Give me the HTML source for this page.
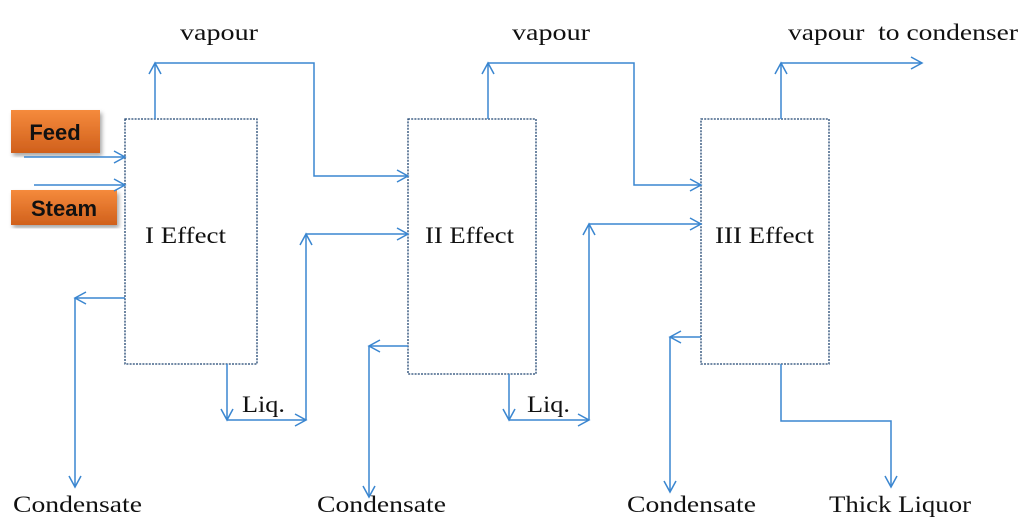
<!DOCTYPE html>
<html><head><style>
html,body{margin:0;padding:0;background:#fff;}
svg{display:block}
.t{font-family:"Liberation Serif",Georgia,serif;font-size:23px;fill:#111}
.b{font-family:"Liberation Sans",Arial,sans-serif;font-size:22px;font-weight:bold;fill:#111}
</style></head><body>
<svg width="1025" height="531" viewBox="0 0 1025 531" xmlns="http://www.w3.org/2000/svg">
<defs>
<marker id="a" markerWidth="16" markerHeight="16" refX="12" refY="7" orient="auto" markerUnits="userSpaceOnUse">
<path d="M1,1 L12,7 L1,13" fill="none" stroke="#3a86d0" stroke-width="1.5"/>
</marker>
<linearGradient id="og" x1="0" y1="0" x2="0" y2="1">
<stop offset="0" stop-color="#f58a3c"/><stop offset="1" stop-color="#d0601c"/>
</linearGradient>
<filter id="sh"><feDropShadow dx="2" dy="3" stdDeviation="2" flood-opacity="0.35"/></filter>
</defs>
<rect x="11" y="110" width="89" height="43" fill="url(#og)" filter="url(#sh)"/>
<text class="b" x="55" y="140" text-anchor="middle">Feed</text>
<rect x="11" y="190" width="106" height="35" fill="url(#og)" filter="url(#sh)"/>
<text class="b" x="64" y="216" text-anchor="middle">Steam</text>

<g fill="none" stroke="#1f4470" stroke-width="1.3" stroke-dasharray="2,1.2">
<rect x="125" y="119" width="132" height="245"/>
<rect x="408" y="119" width="128" height="255"/>
<rect x="701" y="119" width="128" height="245"/>
</g>
<text class="t" x="145" y="243" textLength="81" lengthAdjust="spacingAndGlyphs">I Effect</text>
<text class="t" x="425" y="243" textLength="89" lengthAdjust="spacingAndGlyphs">II Effect</text>
<text class="t" x="715" y="243" textLength="99" lengthAdjust="spacingAndGlyphs">III Effect</text>

<g fill="none" stroke="#3a86d0" stroke-width="1.5">
<polyline points="24,157 125,157" marker-end="url(#a)"/>
<polyline points="34,185 125,185" marker-end="url(#a)"/>
<polyline points="155,119 155,63" marker-end="url(#a)"/>
<polyline points="155,63 314,63 314,176 408,176" marker-end="url(#a)"/>
<polyline points="125,298 75,298" marker-end="url(#a)"/>
<polyline points="75,298 75,487" marker-end="url(#a)"/>
<polyline points="227,364 227,420" marker-end="url(#a)"/>
<polyline points="227,420 306,420" marker-end="url(#a)"/>
<polyline points="306,420 306,234" marker-end="url(#a)"/>
<polyline points="306,234 408,234" marker-end="url(#a)"/>
<polyline points="488,119 488,63" marker-end="url(#a)"/>
<polyline points="488,63 634,63 634,185 701,185" marker-end="url(#a)"/>
<polyline points="408,346 369,346" marker-end="url(#a)"/>
<polyline points="369,346 369,497" marker-end="url(#a)"/>
<polyline points="509,374 509,420" marker-end="url(#a)"/>
<polyline points="509,420 589,420" marker-end="url(#a)"/>
<polyline points="589,420 589,224" marker-end="url(#a)"/>
<polyline points="589,224 701,224" marker-end="url(#a)"/>
<polyline points="781,119 781,63" marker-end="url(#a)"/>
<polyline points="781,63 922,63" marker-end="url(#a)"/>
<polyline points="701,337 670,337" marker-end="url(#a)"/>
<polyline points="670,337 670,492" marker-end="url(#a)"/>
<polyline points="781,364 781,421 891,421 891,487" marker-end="url(#a)"/>
</g>

<text class="t" x="180" y="40" textLength="78" lengthAdjust="spacingAndGlyphs">vapour</text>
<text class="t" x="512" y="40" textLength="78" lengthAdjust="spacingAndGlyphs">vapour</text>
<text class="t" x="788" y="40" textLength="230" lengthAdjust="spacingAndGlyphs" xml:space="preserve">vapour  to condenser</text>
<text class="t" x="242" y="412" textLength="43" lengthAdjust="spacingAndGlyphs">Liq.</text>
<text class="t" x="527" y="412" textLength="43" lengthAdjust="spacingAndGlyphs">Liq.</text>
<text class="t" x="13" y="512" textLength="129" lengthAdjust="spacingAndGlyphs">Condensate</text>
<text class="t" x="317" y="512" textLength="129" lengthAdjust="spacingAndGlyphs">Condensate</text>
<text class="t" x="627" y="512" textLength="129" lengthAdjust="spacingAndGlyphs">Condensate</text>
<text class="t" x="829" y="512" textLength="142" lengthAdjust="spacingAndGlyphs">Thick Liquor</text>
</svg>
</body></html>
